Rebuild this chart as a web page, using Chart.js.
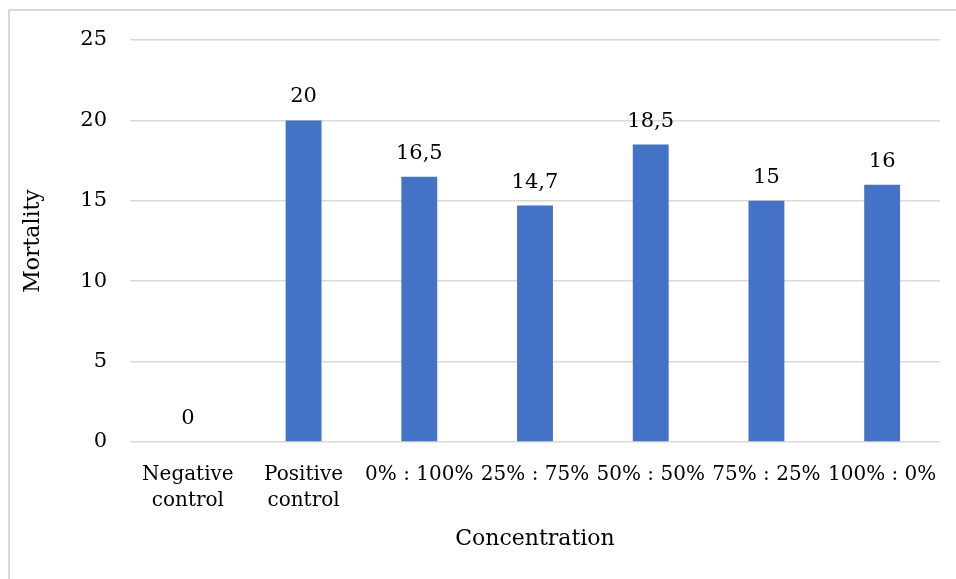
<!DOCTYPE html>
<html lang="en">
<head>
    <meta charset="UTF-8">
    <title>Mortality by Concentration</title>
    <style>
        body {
            margin: 0;
            padding: 0;
            background: #fff;
        }
        #mortalityChart {
            display: block;
        }
    </style>
</head>
<body>
    <canvas id="mortalityChart" width="956" height="579"></canvas>

    <script src="https://cdn.jsdelivr.net/npm/chart.js"></script>
    <script>
        // Chart data
        const categories = [
            ['Negative', 'control'],
            ['Positive', 'control'],
            '0% : 100%',
            '25% : 75%',
            '50% : 50%',
            '75% : 25%',
            '100% : 0%'
        ];
        const mortality = [0, 20, 16.5, 14.7, 18.5, 15, 16];
        const yTicks = [0, 5, 10, 15, 20, 25];

        const fontFamily = '"DejaVu Serif", serif';
        const textColor = '#000';

        // Light grey frame around the chart
        const framePlugin = {
            id: 'frame',
            beforeDraw(chart) {
                const ctx = chart.ctx;
                ctx.save();
                ctx.fillStyle = '#fff';
                ctx.fillRect(0, 0, chart.width, chart.height);
                ctx.strokeStyle = '#d9d9d9';
                ctx.lineWidth = 2;
                ctx.strokeRect(9, 10, chart.width + 20, chart.height + 20);
                ctx.restore();
            }
        };

        // Value labels above each bar (comma decimal)
        const valueLabels = {
            id: 'valueLabels',
            afterDatasetsDraw(chart) {
                const ctx = chart.ctx;
                const meta = chart.getDatasetMeta(0);
                ctx.save();
                ctx.font = '21px ' + fontFamily;
                ctx.fillStyle = textColor;
                ctx.textAlign = 'center';
                ctx.textBaseline = 'alphabetic';
                meta.data.forEach((bar, i) => {
                    const text = String(mortality[i]).replace('.', ',');
                    ctx.fillText(text, bar.x, bar.y - 18);
                });
                ctx.restore();
            }
        };

        const ctx = document.getElementById('mortalityChart').getContext('2d');
        new Chart(ctx, {
            type: 'bar',
            data: {
                labels: categories,
                datasets: [{
                    data: mortality,
                    backgroundColor: '#4472C4',
                    borderWidth: 0,
                    barPercentage: 0.31,
                    categoryPercentage: 1
                }]
            },
            options: {
                responsive: false,
                animation: false,
                layout: {
                    padding: { top: 40, right: 16, left: 0, bottom: 0 }
                },
                plugins: {
                    legend: { display: false },
                    tooltip: { enabled: false }
                },
                scales: {
                    x: {
                        grid: { display: false },
                        border: { display: false },
                        ticks: {
                            color: textColor,
                            font: { family: fontFamily, size: 20, lineHeight: 1.3 },
                            padding: 12,
                            maxRotation: 0,
                            autoSkip: false
                        },
                        title: {
                            display: true,
                            text: 'Concentration',
                            color: textColor,
                            font: { family: fontFamily, size: 22, lineHeight: 1.2 },
                            padding: { top: 0, bottom: 27 }
                        },
                        afterFit(scale) {
                            scale.height = 137;
                        }
                    },
                    y: {
                        min: 0,
                        max: 25,
                        afterBuildTicks(scale) {
                            scale.ticks = yTicks.map(v => ({ value: v }));
                        },
                        grid: {
                            color: '#d9d9d9',
                            lineWidth: 1.5,
                            drawTicks: false
                        },
                        border: { display: false },
                        ticks: {
                            color: textColor,
                            font: { family: fontFamily, size: 21 },
                            padding: 23
                        },
                        title: {
                            display: true,
                            text: 'Mortality',
                            color: textColor,
                            font: { family: fontFamily, size: 22, lineHeight: 1.2 },
                            padding: { top: 20, bottom: 0 }
                        },
                        afterFit(scale) {
                            scale.width = 130;
                        }
                    }
                }
            },
            plugins: [framePlugin, valueLabels]
        });
    </script>
</body>
</html>
